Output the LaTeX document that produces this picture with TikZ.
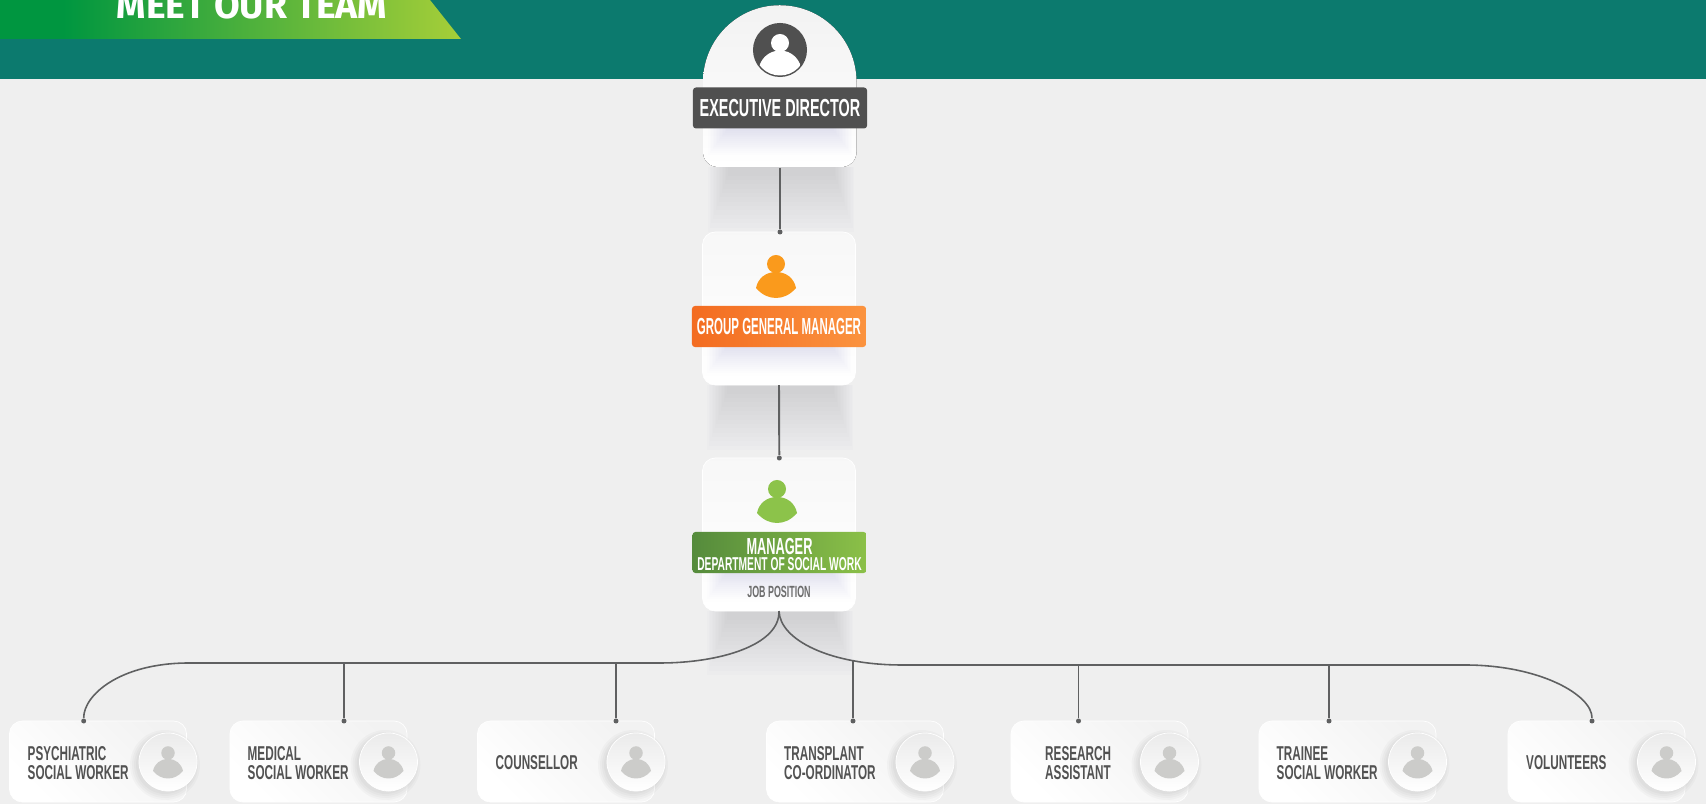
\documentclass[tikz,border=0pt]{standalone}
\usepackage{fontspec}
\usetikzlibrary{arrows.meta, fit}

\newfontfamily\bebasbase[FakeStretch=0.585]{Liberation Sans}
\newfontfamily\bebasmidbase[FakeStretch=0.55]{Liberation Sans}
\newfontfamily\bebasnarrowbase[FakeStretch=0.495]{Liberation Sans}
\newcommand{\bebas}{\bebasbase\bfseries}
\newcommand{\bebasmid}{\bebasmidbase\bfseries}
\newcommand{\bebasnarrow}{\bebasnarrowbase\bfseries}
\newfontfamily\headbase{Fira Sans}
\newcommand{\headfont}{\headbase\bfseries}

\definecolor{pagebg}{HTML}{EFEFEF}
\definecolor{bandteal}{HTML}{0C7A6E}
\definecolor{linegray}{HTML}{5F6061}
\definecolor{darkbar}{HTML}{505050}
\definecolor{labelgray}{HTML}{525252}
\definecolor{icongray}{HTML}{CCCCCA}
\definecolor{dropgray}{HTML}{85858F}
\definecolor{dropblue}{HTML}{A9AFD0}
\definecolor{orangeL}{HTML}{F36C21}
\definecolor{orangeR}{HTML}{FB933F}
\definecolor{orangeicon}{HTML}{FA9A1C}
\definecolor{greenL}{HTML}{558B3C}
\definecolor{greenR}{HTML}{8BC048}
\definecolor{greenicon}{HTML}{8CC34A}

\pgfdeclarehorizontalshading{bannershade}{100bp}{rgb(0bp)=(0,.59,.25); rgb(32bp)=(0,.59,.25); rgb(75bp)=(.65,.81,.22); rgb(100bp)=(.65,.81,.22)}

\tikzset{
    card/.style={rectangle,inner sep=0,outer sep=0,rounded corners=0.13cm,draw=white,line width=0.2pt,
        shading angle=45,top color=#1,bottom color=white},
    namebar/.style={rectangle,inner sep=0,outer sep=0,rounded corners=0.03cm,minimum width=1.74cm,minimum height=0.41cm,
        align=center,text=white},
    disc/.style={circle,inner sep=0,outer sep=0,minimum size=0.58cm,draw=white,line width=0.2pt,
        shading angle=45,top color=white!92!black,bottom color=white},
    dot/.style={circle,fill=linegray,inner sep=0,minimum size=0.05cm},
    link/.style={draw=linegray,line width=0.45pt},
    cardtext/.style={anchor=west,align=left,text=labelgray,inner sep=0,
        font=\bebas\fontsize{5.7}{5.4}\selectfont},
}

\newcommand{\softdrop}[5]{%
    \foreach \i in {0,...,13} {\fill[#5,opacity=.02] (#1+1.5*\i,#2) rectangle (#3-1.5*\i,{#4-(#4-#2)*\i/15});}}
\newcommand{\personicon}[4]{%
    \begin{scope}[shift={(#1,#2)},scale=#3]
        \fill[#4] (0,0) circle [radius=9];
        \fill[#4] (-20,24) .. controls (-18,14) and (-10,8) .. (0,8) .. controls (10,8) and (18,14) .. (20,24)
            .. controls (14,31) and (7,34) .. (0,34) .. controls (-7,34) and (-14,31) .. (-20,24) -- cycle;
    \end{scope}}

\begin{document}
\begin{tikzpicture}[x=0.01cm,y=-0.01cm]
\clip (0,0) rectangle (1706,804);
\fill[pagebg] (0,0) rectangle (1706,804);
\fill[bandteal] (0,0) rectangle (1706,79);

% banner
\path[shading=bannershade] (0,0) -- (430,0) -- (461,39) -- (0,39) -- cycle;
\node (title) at (116,19) [anchor=base west,inner sep=0,text=white,font=\headfont\fontsize{10.6}{12}\selectfont] {MEET OUR TEAM};

% soft shadows under the big cards
\softdrop{708}{167}{854}{232}{dropgray}
\softdrop{707}{385}{853}{450}{dropgray}
\softdrop{707}{611}{853}{675}{dropgray}

% top three cards
\fill[shading angle=45,top color=white!95!black,bottom color=white] (703,82) arc [start angle=180,end angle=360,radius=76.75] -- (856.5,152)
    arc [start angle=0,end angle=90,radius=15] -- (718,167) arc [start angle=90,end angle=180,radius=15] -- cycle;
\node (exec) at (780,86) [rectangle,inner sep=0,minimum width=1.535cm,minimum height=1.62cm] {};
\node (gm) at (779,308.5) [card=white!97!black,minimum width=1.53cm,minimum height=1.53cm] {};
\node (mgr) at (779,534.5) [card=white!97!black,minimum width=1.53cm,minimum height=1.53cm] {};

\softdrop{708}{125}{852}{155}{dropblue}
\softdrop{707}{343}{851}{373}{dropblue}
\softdrop{707}{569}{851}{599}{dropblue}

% avatars
\node (avatar) at (780,50) [circle,fill=darkbar,inner sep=0,minimum size=0.54cm] {};
\begin{scope}
    \clip (780,50) circle [radius=25.5];
    \fill[white] (780,72) circle [radius=21.5];
\end{scope}
\fill[white] (780,43) circle [radius=9];
\personicon{776}{264}{1}{orangeicon}
\personicon{777}{489}{1}{greenicon}

% name bars
\node (execbar) at (780,108) [namebar,fill=darkbar,font=\bebas\fontsize{7}{8}\selectfont] {EXECUTIVE DIRECTOR};
\node (gmbar) at (779,326.5) [namebar,left color=orangeL,right color=orangeR,font=\bebasnarrow\fontsize{6.6}{8}\selectfont] {GROUP GENERAL MANAGER};
\node (mgrbar) at (779.5,552.5) [namebar,left color=greenL,middle color=greenR!85!greenL,right color=greenR] {};
\node (mgrtext) at (779.5,554.5) [inner sep=0,align=center,text=white,font=\bebasmid\fontsize{6.6}{4.7}\selectfont]
    {MANAGER\\{\fontsize{5.3}{4.7}\selectfont DEPARTMENT OF SOCIAL WORK}};
\node (job) at (779,592) [inner sep=0,text=labelgray!85!white,font=\bebasmid\fontsize{4.6}{6}\selectfont] {JOB POSITION};

% bottom cards
\foreach \nm/\lx/\tx/\dx/\lbl in {
    psy/9.5/27/83.7/{PSYCHIATRIC\\SOCIAL WORKER},
    med/230/247/344/{MEDICAL\\SOCIAL WORKER},
    cou/477.5/495/616/{COUNSELLOR},
    tra/766.5/783.5/853/{TRANSPLANT\\CO-ORDINATOR},
    res/1011/1044.5/1078.5/{RESEARCH\\ASSISTANT},
    tri/1259/1276/1329/{TRAINEE\\SOCIAL WORKER},
    vol/1508/1525.5/1592/{VOLUNTEERS}} {
    \node (\nm) at (\lx+88.5,761.5) [card=white!95!black,shading angle=-45,minimum width=1.77cm,minimum height=0.81cm] {};
    \node (\nm text) at (\tx,763) [cardtext] {\lbl};
    \foreach \r in {29,31,33,35} {\fill[black,opacity=.025] (\lx+155.5,765) circle [radius=\r];}
    \node (\nm disc) at (\lx+158.5,762) [disc] {};
    \personicon{\lx+158.5}{753}{0.75}{icongray}
    \node (\nm dot) at (\dx,721) [dot] {};
}

% connectors
\node (dotexec) at (780,232) [dot] {};
\node (dotmgr) at (779.3,458) [dot] {};
\coordinate (leftbus) at (660,663);
\coordinate (rightbus) at (902,665);
\coordinate (trabus) at (853,660);

\draw[link,line width=0.55pt] (exec.south) -- (dotexec);
\draw[link,line width=0.55pt] (gm.south) -- (dotmgr);
\draw[link] (mgr.south) .. controls (780,645) and (720,663) .. (leftbus) -- (189,663)
    .. controls (120,663) and (83.7,695) .. (psydot);
\draw[link] (mgr.south) .. controls (780,640) and (830,665) .. (rightbus) -- (1465,665)
    .. controls (1540,665) and (1592,695) .. (voldot);
\draw[link] (meddot |- leftbus) -- (meddot);
\draw[link] (coudot |- leftbus) -- (coudot);
\draw[link] (trabus) -- (tradot);
\draw[link] (resdot |- rightbus) -- (resdot);
\draw[link] (tridot |- rightbus) -- (tridot);
\end{tikzpicture}
\end{document}
